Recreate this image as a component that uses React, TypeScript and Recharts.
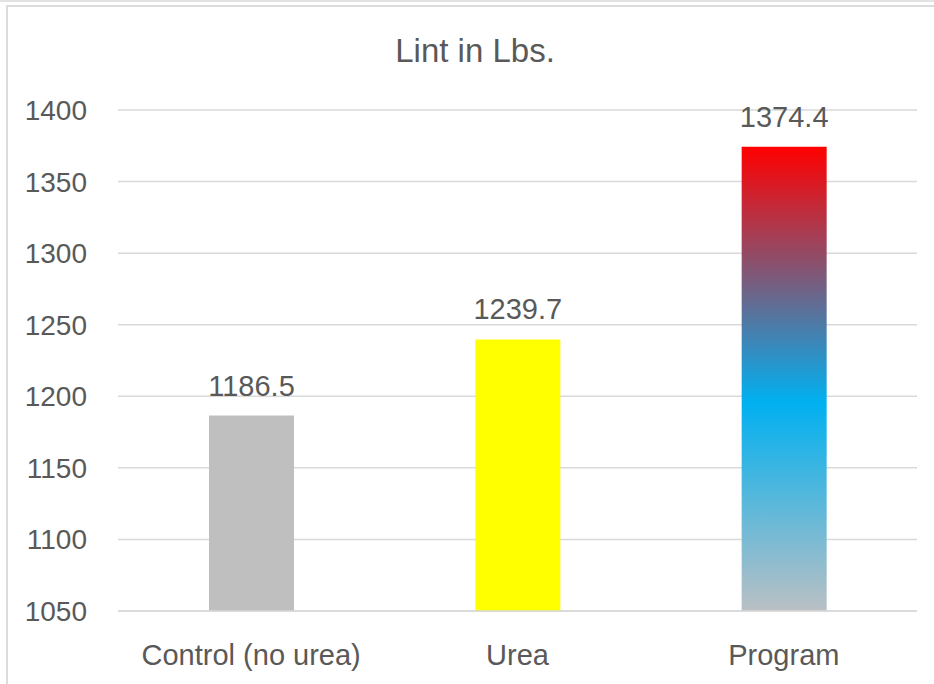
import { BarChart, Bar, XAxis, YAxis, CartesianGrid, Cell, LabelList } from 'recharts';

const categories = ["Control (no urea)", "Urea", "Program"];
const lintValues = [1186.5, 1239.7, 1374.4];
const yTicks = [1050, 1100, 1150, 1200, 1250, 1300, 1350, 1400];
const barFills = ["#BFBFBF", "#FFFF00", "url(#programFill)"];

const data = categories.map((name, i) => ({ name, value: lintValues[i] }));

const FONT = '"Liberation Sans", Arial, sans-serif';
const TEXT = '#595959';

export default function App() {
  return (
    <div style={{ position: 'absolute', left: 0, top: 0, width: 934, height: 684, background: '#fff', fontFamily: FONT }}>
      {/* frame lines */}
      <div style={{ position: 'absolute', left: 0, top: 0, width: 934, height: 2, background: '#e3e3e3' }} />
      <div style={{ position: 'absolute', left: 6, top: 5, width: 928, height: 679, borderTop: '2px solid #dcdcdc', borderLeft: '2px solid #dcdcdc', boxSizing: 'border-box' }} />

      <div style={{ position: 'absolute', left: 475, top: 34, transform: 'translateX(-50%)', fontSize: 33, lineHeight: '33px', color: TEXT, whiteSpace: 'nowrap' }}>
        Lint in Lbs.
      </div>

      <div style={{ position: 'absolute', left: 0, top: 0 }}>
        <BarChart width={934} height={684} data={data} margin={{ top: 110, right: 17, bottom: 13, left: 0 }}>
          <defs>
            <linearGradient id="programFill" x1="0" y1="0" x2="0" y2="1">
              <stop offset="0%" stopColor="#FF0000" />
              <stop offset="55%" stopColor="#00B0F0" />
              <stop offset="100%" stopColor="#BAC0C4" />
            </linearGradient>
          </defs>
          <CartesianGrid vertical={false} stroke="#D9D9D9" strokeWidth={1.5} />
          <XAxis
            dataKey="name"
            height={60}
            tickSize={0}
            tickMargin={33}
            axisLine={{ stroke: '#D9D9D9', strokeWidth: 1.5 }}
            tickLine={false}
            tick={{ fill: TEXT, fontSize: 29, fontFamily: FONT }}
          />
          <YAxis
            width={118}
            domain={[1050, 1400]}
            ticks={yTicks}
            allowDataOverflow
            tickSize={0}
            tickMargin={31}
            axisLine={false}
            tickLine={false}
            tick={{ fill: TEXT, fontSize: 28, fontFamily: FONT }}
          />
          <Bar dataKey="value" barSize={85} isAnimationActive={false}>
            {data.map((entry, index) => (
              <Cell key={`cell-${index}`} fill={barFills[index]} />
            ))}
            <LabelList dataKey="value" position="top" offset={20} fill={TEXT} fontSize={29} fontFamily={FONT} />
          </Bar>
        </BarChart>
      </div>
    </div>
  );
}
